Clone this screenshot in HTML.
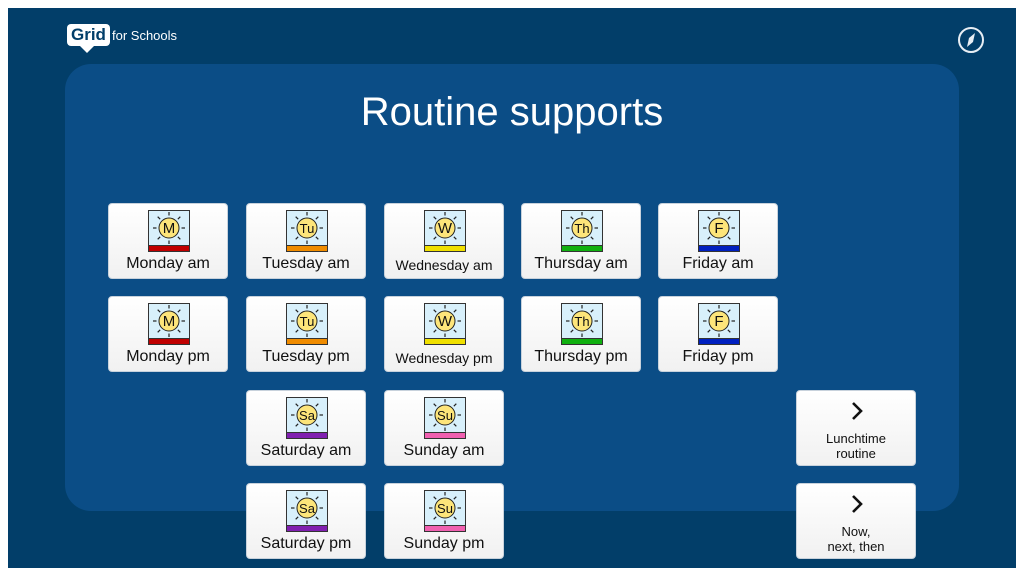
<!DOCTYPE html>
<html><head><meta charset="utf-8"><style>
*{margin:0;padding:0;box-sizing:border-box}
body{width:1024px;height:576px;background:#fff;position:relative;overflow:hidden;font-family:"Liberation Sans",sans-serif}
#bg{position:absolute;left:8px;top:8px;width:1008px;height:560px;background:#023e69}
#panel{position:absolute;left:65px;top:64px;width:894px;height:447px;background:#0b4d86;border-radius:26px}
h1{position:absolute;left:0;width:1024px;top:90px;text-align:center;color:#fff;font-weight:normal;font-size:40px}
.b{position:absolute;width:120px;height:76px;background:linear-gradient(#fff,#f1f1f1);border-radius:4px;border:1px solid #c8d2dc}
.b svg{position:absolute;left:39px;top:6px}
.b .t{position:absolute;left:0;right:0;top:51px;text-align:center;font-size:16px;color:#111;white-space:nowrap}
.b .s{font-size:14px;top:53px}
.n .t{top:40px;font-size:13px;line-height:15px}
.logo{position:absolute;left:67px;top:24px;background:#fff;color:#023e69;font-weight:bold;font-size:17px;padding:0 4px;border-radius:4px;line-height:22px}
.logo:after{content:"";position:absolute;left:13px;bottom:-7px;border:7px solid transparent;border-top-color:#fff;border-bottom:0}
.fs{position:absolute;left:112px;top:28px;color:#fff;font-size:13px}
</style></head><body>
<div id="bg"></div>
<div class="logo">Grid</div><div class="fs">for Schools</div>
<svg style="position:absolute;left:956px;top:25px" width="30" height="30"><circle cx="15" cy="15" r="12" fill="none" stroke="#e8eef4" stroke-width="2"/><polygon points="19,8 17,17 11,22 13,13" fill="#e8eef4"/></svg>
<div id="panel"></div>
<h1>Routine supports</h1>
<div id="g"></div>
<script>
const items=[
[108,203,"M","#c00000","Monday am"],[246,203,"Tu","#f08c00","Tuesday am"],[384,203,"W","#f0e000","Wednesday am",1],[521,203,"Th","#10b010","Thursday am"],[658,203,"F","#0020c0","Friday am"],
[108,296,"M","#c00000","Monday pm"],[246,296,"Tu","#f08c00","Tuesday pm"],[384,296,"W","#f0e000","Wednesday pm",1],[521,296,"Th","#10b010","Thursday pm"],[658,296,"F","#0020c0","Friday pm"],
[246,390,"Sa","#8020b0","Saturday am"],[384,390,"Su","#f060b0","Sunday am"],
[246,483,"Sa","#8020b0","Saturday pm"],[384,483,"Su","#f060b0","Sunday pm"]];
let h="";
for(const [x,y,l,c,t,s] of items){
let rays="";for(let i=0;i<8;i++){const a=i*Math.PI/4;rays+=`<line x1="${21+Math.cos(a)*12.5}" y1="${18+Math.sin(a)*12.5}" x2="${21+Math.cos(a)*16}" y2="${18+Math.sin(a)*16}" stroke="#222" stroke-width="1.2"/>`;}
h+=`<div class="b" style="left:${x}px;top:${y}px"><svg width="42" height="42"><rect x="0.5" y="0.5" width="41" height="41" fill="#d8f0fb" stroke="#333"/>${rays}<circle cx="21" cy="18" r="10" fill="#fde57a" stroke="#222"/><text x="21" y="23" text-anchor="middle" font-size="${l.length>1?13:15}" font-family="Liberation Sans" fill="#111">${l}</text><rect x="1" y="36" width="40" height="5" fill="${c}"/><line x1="1" y1="35.5" x2="41" y2="35.5" stroke="#333"/></svg><div class="t${s?' s':''}">${t}</div></div>`;}
const chev=`<svg width="14" height="20" style="left:53px;top:10px"><polyline points="3,2 11,10 3,18" fill="none" stroke="#111" stroke-width="2.6"/></svg>`;
h+=`<div class="b n" style="left:796px;top:390px">${chev}<div class="t">Lunchtime<br>routine</div></div>`;
h+=`<div class="b n" style="left:796px;top:483px">${chev}<div class="t">Now,<br>next, then</div></div>`;
document.getElementById("g").innerHTML=h;
</script>
</body></html>
